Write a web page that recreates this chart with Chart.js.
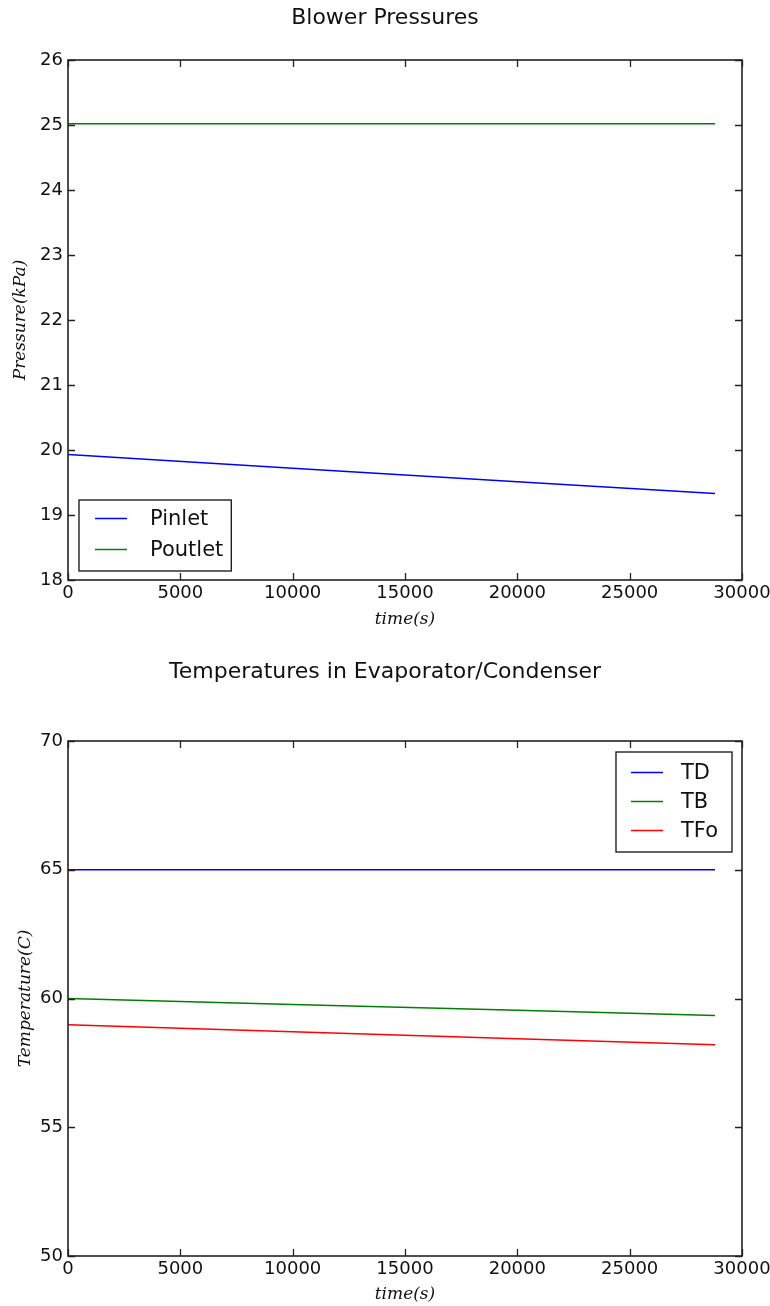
<!DOCTYPE html>
<html><head><meta charset="utf-8">
<script src="https://cdn.jsdelivr.net/npm/chart.js@4/dist/chart.umd.min.js"></script>
<style>
html,body{margin:0;padding:0;background:#fff;}
#w1{position:absolute;left:0;top:0;width:770px;height:640px;}
#w2{position:absolute;left:0;top:640px;width:770px;height:666px;}
</style></head><body>
<div id="w1"><canvas id="c1"></canvas></div>
<div id="w2"><canvas id="c2"></canvas></div>
<script>
// ---- data ----
const timeTop = [0, 10000, 20000, 28800];
const pinlet = [19.93, 19.72, 19.51, 19.33];
const poutlet = [25.02, 25.02, 25.02, 25.02];

const timeBottom = [0, 10000, 20000, 28800];
const tD = [65.0, 65.0, 65.0, 65.0];
const tB = [60.0, 59.77, 59.54, 59.34];
const tFo = [58.98, 58.71, 58.44, 58.20];

const xTickLabels = [0, 5000, 10000, 15000, 20000, 25000, 30000];
const yTicksTop = [18, 19, 20, 21, 22, 23, 24, 25, 26];
const yTicksBottom = [50, 55, 60, 65, 70];

// ---- helpers ----
const AX = '#222';
function pts(xs, ys){ return xs.map((x,i)=>({x:x, y:ys[i]})); }

const framePlugin = {
  id: 'frame',
  afterDatasetsDraw(chart){
    const {ctx, chartArea:a, scales} = chart;
    const L = 7;
    ctx.save();
    ctx.strokeStyle = AX;
    ctx.lineWidth = 1.3;
    ctx.beginPath();
    scales.x.ticks.forEach(t=>{
      const px = Math.round(scales.x.getPixelForValue(t.value))+0.5;
      ctx.moveTo(px, a.bottom); ctx.lineTo(px, a.bottom - L);
      ctx.moveTo(px, a.top); ctx.lineTo(px, a.top + L);
    });
    scales.y.ticks.forEach(t=>{
      const py = Math.round(scales.y.getPixelForValue(t.value))+0.5;
      ctx.moveTo(a.left, py); ctx.lineTo(a.left + L, py);
      ctx.moveTo(a.right, py); ctx.lineTo(a.right - L, py);
    });
    ctx.stroke();
    ctx.lineWidth = 1.6;
    ctx.strokeRect(a.left, a.top, a.right - a.left, a.bottom - a.top);
    ctx.restore();
  }
};

const boxLegendPlugin = {
  id: 'boxLegend',
  afterDraw(chart, args, opts){
    const {ctx, chartArea:a} = chart;
    const ds = chart.data.datasets;
    ctx.save();
    ctx.font = opts.fontSize + 'px "DejaVu Sans"';
    let tw = 0;
    ds.forEach(d=>{ tw = Math.max(tw, ctx.measureText(d.label).width); });
    const rowH = opts.rowH;
    const w = opts.padL + opts.lineLen + opts.gap + tw + opts.padR;
    const h = opts.padT + rowH * ds.length + opts.padB;
    let x0, y0;
    if (opts.corner === 'lowerLeft'){ x0 = a.left + opts.mx; y0 = a.bottom - opts.my - h; }
    else { x0 = a.right - opts.mx - w; y0 = a.top + opts.my; }
    ctx.fillStyle = '#fff';
    ctx.fillRect(x0, y0, w, h);
    ctx.strokeStyle = AX; ctx.lineWidth = 1.4;
    ctx.strokeRect(x0, y0, w, h);
    ds.forEach((d,i)=>{
      const cy = y0 + opts.padT + rowH * i + rowH/2;
      ctx.strokeStyle = d.borderColor; ctx.lineWidth = 1.5;
      ctx.beginPath();
      ctx.moveTo(x0 + opts.padL, cy); ctx.lineTo(x0 + opts.padL + opts.lineLen, cy);
      ctx.stroke();
      ctx.fillStyle = '#111'; ctx.textBaseline = 'middle'; ctx.textAlign = 'left';
      ctx.fillText(d.label, x0 + opts.padL + opts.lineLen + opts.gap, cy + 1);
    });
    ctx.restore();
  }
};

function makeChart(id, cfg){
  return new Chart(document.getElementById(id), {
    type: 'line',
    data: { datasets: cfg.datasets.map(d=>({
      label: d.label, data: d.data, borderColor: d.color, backgroundColor: d.color,
      borderWidth: 1.5, pointRadius: 0, tension: 0, fill: false
    })) },
    options: {
      responsive: true, maintainAspectRatio: false, animation: false,
      devicePixelRatio: 1,
      layout: { padding: { left: 0, right: 0, top: 0, bottom: 0 } },
      plugins: {
        legend: { display: false },
        tooltip: { enabled: false },
        title: {
          display: true, text: cfg.title, color: '#111',
          font: { family: 'DejaVu Sans', size: 22, weight: 'normal' },
          padding: cfg.titlePad
        },
        boxLegend: cfg.legend
      },
      scales: {
        x: {
          type: 'linear', min: 0, max: 30000,
          afterBuildTicks: s => { s.ticks = xTickLabels.map(v=>({value:v})); },
          afterFit: s => { s.height = cfg.xAxisH; s.paddingRight = 28; s.paddingLeft = 0; },
          grid: { display: false, drawTicks: false, tickLength: 0 },
          border: { display: false },
          ticks: { color: '#111', font: { family: 'DejaVu Sans', size: 18 }, padding: 3, maxRotation: 0, autoSkip: false,
                   callback: v => String(v) },
          title: { display: true, text: 'time(s)', color: '#111',
            font: { family: 'DejaVu Serif', size: 17, style: 'italic' },
            padding: { top: 0, bottom: cfg.xTitlePadB } }
        },
        y: {
          type: 'linear', min: cfg.yMin, max: cfg.yMax,
          afterBuildTicks: s => { s.ticks = cfg.yTicks.map(v=>({value:v})); },
          afterFit: s => { s.width = 68; },
          grid: { display: false, drawTicks: false, tickLength: 0 },
          border: { display: false },
          ticks: { color: '#111', font: { family: 'DejaVu Sans', size: 18 }, padding: 5, autoSkip: false,
                   callback: v => String(v) },
          title: { display: true, text: cfg.yTitle, color: '#111',
            font: { family: 'DejaVu Serif', size: 17, style: 'italic' },
            padding: { top: cfg.yTitlePadT, bottom: 0 } }
        }
      }
    },
    plugins: [framePlugin, boxLegendPlugin]
  });
}

makeChart('c1', {
  title: 'Blower Pressures',
  titlePad: { top: 4.8, bottom: 28.8 },
  xAxisH: 60, xTitlePadB: 9.8,
  yMin: 18, yMax: 26, yTicks: yTicksTop,
  yTitle: 'Pressure(kPa)', yTitlePadT: 10.5,
  legend: { corner: 'lowerLeft', fontSize: 21, mx: 11, my: 9, padL: 16, lineLen: 32, gap: 23, padR: 8, padT: 3, padB: 6, rowH: 31 },
  datasets: [
    { label: 'Pinlet', data: pts(timeTop, pinlet), color: '#0000ff' },
    { label: 'Poutlet', data: pts(timeTop, poutlet), color: '#008000' }
  ]
});

makeChart('c2', {
  title: 'Temperatures in Evaporator/Condenser',
  titlePad: { top: 18.8, bottom: 55.8 },
  xAxisH: 50, xTitlePadB: 0.8,
  yMin: 50, yMax: 70, yTicks: yTicksBottom,
  yTitle: 'Temperature(C)', yTitlePadT: 15.5,
  legend: { corner: 'upperRight', fontSize: 21, mx: 10, my: 11, padL: 15, lineLen: 32, gap: 18, padR: 14, padT: 6, padB: 7, rowH: 29 },
  datasets: [
    { label: 'TD', data: pts(timeBottom, tD), color: '#0000ff' },
    { label: 'TB', data: pts(timeBottom, tB), color: '#008000' },
    { label: 'TFo', data: pts(timeBottom, tFo), color: '#ff0000' }
  ]
});
</script>
</body></html>
